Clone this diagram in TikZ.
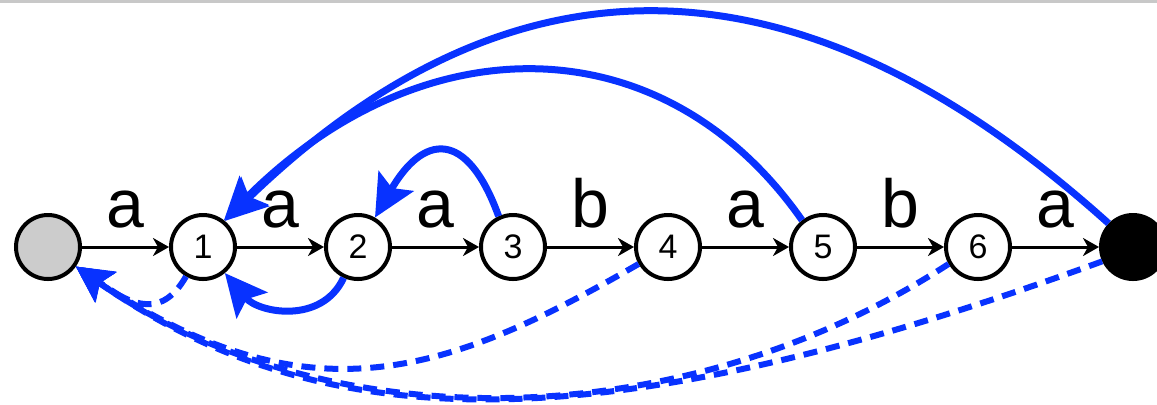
\documentclass[tikz,border=0pt]{standalone}
\usepackage{fontspec}
\setmainfont{Liberation Sans}
\usepackage{xcolor}
\usepackage{tikz}
\usetikzlibrary{arrows.meta, positioning}
\definecolor{kmpblue}{RGB}{8,50,255}
\definecolor{nullgray}{RGB}{204,204,204}
\definecolor{rulegray}{RGB}{200,200,200}
\tikzstyle{state} = [circle, draw=black, line width=2pt, minimum size=32pt, inner sep=0pt, outer sep=1pt, fill=white, font=\fontsize{17}{17}\selectfont]
\tikzstyle{nullstate} = [state, fill=nullgray]
\tikzstyle{donestate} = [state, fill=black]
\tikzstyle{trans} = [-{Stealth[length=8pt, width=9pt, inset=2.5pt]}, line width=1.5pt]
\tikzstyle{back} = [-{Stealth[length=21pt, width=20pt, inset=4pt]}, line width=3.5pt, draw=kmpblue]
\tikzstyle{fail} = [-{Stealth[length=18pt, width=18pt, inset=3.5pt]}, line width=3pt, draw=kmpblue, dash pattern=on 7pt off 4.5pt]
\tikzstyle{lbl} = [inner sep=0pt, font=\fontsize{34}{34}\selectfont]

\begin{document}
\begin{tikzpicture}
  \useasboundingbox (0pt,0pt) rectangle (578.5pt,-202pt);
  % thin rule along the top edge
  \fill[rulegray] (0pt,0pt) rectangle (578.5pt,-1.5pt);
  % states in a row
  \node[nullstate] (s0) at (24pt,-123.5pt) {};
  \node[state, right=43.5pt of s0] (s1) {1};
  \node[state, right=43.5pt of s1] (s2) {2};
  \node[state, right=43.5pt of s2] (s3) {3};
  \node[state, right=43.5pt of s3] (s4) {4};
  \node[state, right=43.5pt of s4] (s5) {5};
  \node[state, right=43.5pt of s5] (s6) {6};
  \node[donestate, right=43.5pt of s6] (s7) {};
  % forward transitions
  \draw[trans] (s0) -- node[lbl, above=8.5pt] {a} (s1);
  \draw[trans] (s1) -- node[lbl, above=8.5pt] {a} (s2);
  \draw[trans] (s2) -- node[lbl, above=8.5pt] {a} (s3);
  \draw[trans] (s3) -- node[lbl, above=8.5pt] {b} (s4);
  \draw[trans] (s4) -- node[lbl, above=8.5pt] {a} (s5);
  \draw[trans] (s5) -- node[lbl, above=8.5pt] {b} (s6);
  \draw[trans] (s6) -- node[lbl, above=8.5pt] {a} (s7);
  % dashed links back to the start
  \draw[fail] (s1.240) to[out=240, in=-35, out distance=23.5pt, in distance=36pt] (s0.-35);
  \draw[fail] (s4.210) to[out=210, in=-34, out distance=109pt, in distance=141pt] (s0.-35);
  \draw[fail] (s6.210) to[out=213, in=-35, out distance=160pt, in distance=152pt] (s0.-35);
  \draw[fail] (s7.205) to[out=200, in=-35, out distance=260pt, in distance=155pt] (s0.-35);
  % solid arcs back
  \draw[back] (s7.136) to[out=138, in=44, out distance=208pt, in distance=200pt] (s1.50);
  \draw[back] (s5.128) to[out=125, in=45, out distance=121pt, in distance=140pt] (s1.52);
  \draw[back] (s3.115) to[out=110, in=60, out distance=47.5pt, in distance=47.5pt] (s2.60);
  \draw[back] (s2.245) to[out=-115, in=-50, out distance=26pt, in distance=26pt] (s1.-50);
\end{tikzpicture}
\end{document}
